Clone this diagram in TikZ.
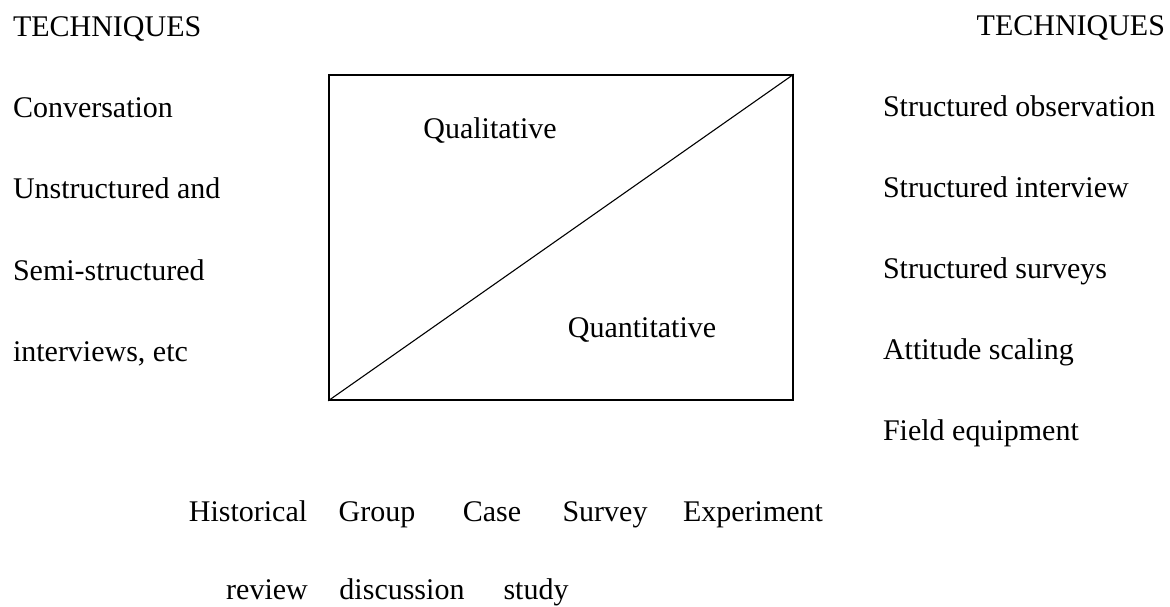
\documentclass[tikz,border=0pt]{standalone}
\usepackage{fontspec}
\setmainfont{Liberation Serif}
\begin{document}
\begin{tikzpicture}[x=1pt,y=-1pt,
  lbl/.style={inner sep=0pt,outer sep=0pt,font=\fontsize{30}{36}\selectfont,anchor=base west},
  lblc/.style={lbl,anchor=base},
  frame/.style={draw=black,line width=1.6pt,inner sep=0pt,minimum width=464pt,minimum height=325pt},
  diag/.style={draw=black,line width=1.1pt}]
\useasboundingbox (0,0) rectangle (1170,606);
% headings
\node[lbl] (tl) at (13,36) {TECHNIQUES};
\node[lbl,anchor=base east] (tr) at (1165,35) {TECHNIQUES};
% left column
\node[lbl] (l1) at (13,117) {Conversation};
\node[lbl] (l2) at (13,198) {Unstructured and};
\node[lbl] (l3) at (13,280) {Semi-structured};
\node[lbl] (l4) at (13,361) {interviews, etc};
% right column
\node[lbl] (r1) at (883,116) {Structured observation};
\node[lbl] (r2) at (883,197) {Structured interview};
\node[lbl] (r3) at (883,278) {Structured surveys};
\node[lbl] (r4) at (883,359) {Attitude scaling};
\node[lbl] (r5) at (883,440) {Field equipment};
% box
\node[frame] (box) at (561,237.5) {};
\draw[diag] (box.south west) -- (box.north east);
\node[lblc] (qual) at (490,138) {Qualitative};
\node[lblc] (quan) at (642,337) {Quantitative};
% bottom rows
\node[lblc] (b1) at (248,521) {Historical};
\node[lblc] (b2) at (377,521) {Group};
\node[lblc] (b3) at (492,521) {Case};
\node[lblc] (b4) at (605,521) {Survey};
\node[lblc] (b5) at (753,521) {Experiment};
\node[lblc] (c1) at (267,599) {review};
\node[lblc] (c2) at (402,599) {discussion};
\node[lblc] (c3) at (536,599) {study};
\end{tikzpicture}
\end{document}
